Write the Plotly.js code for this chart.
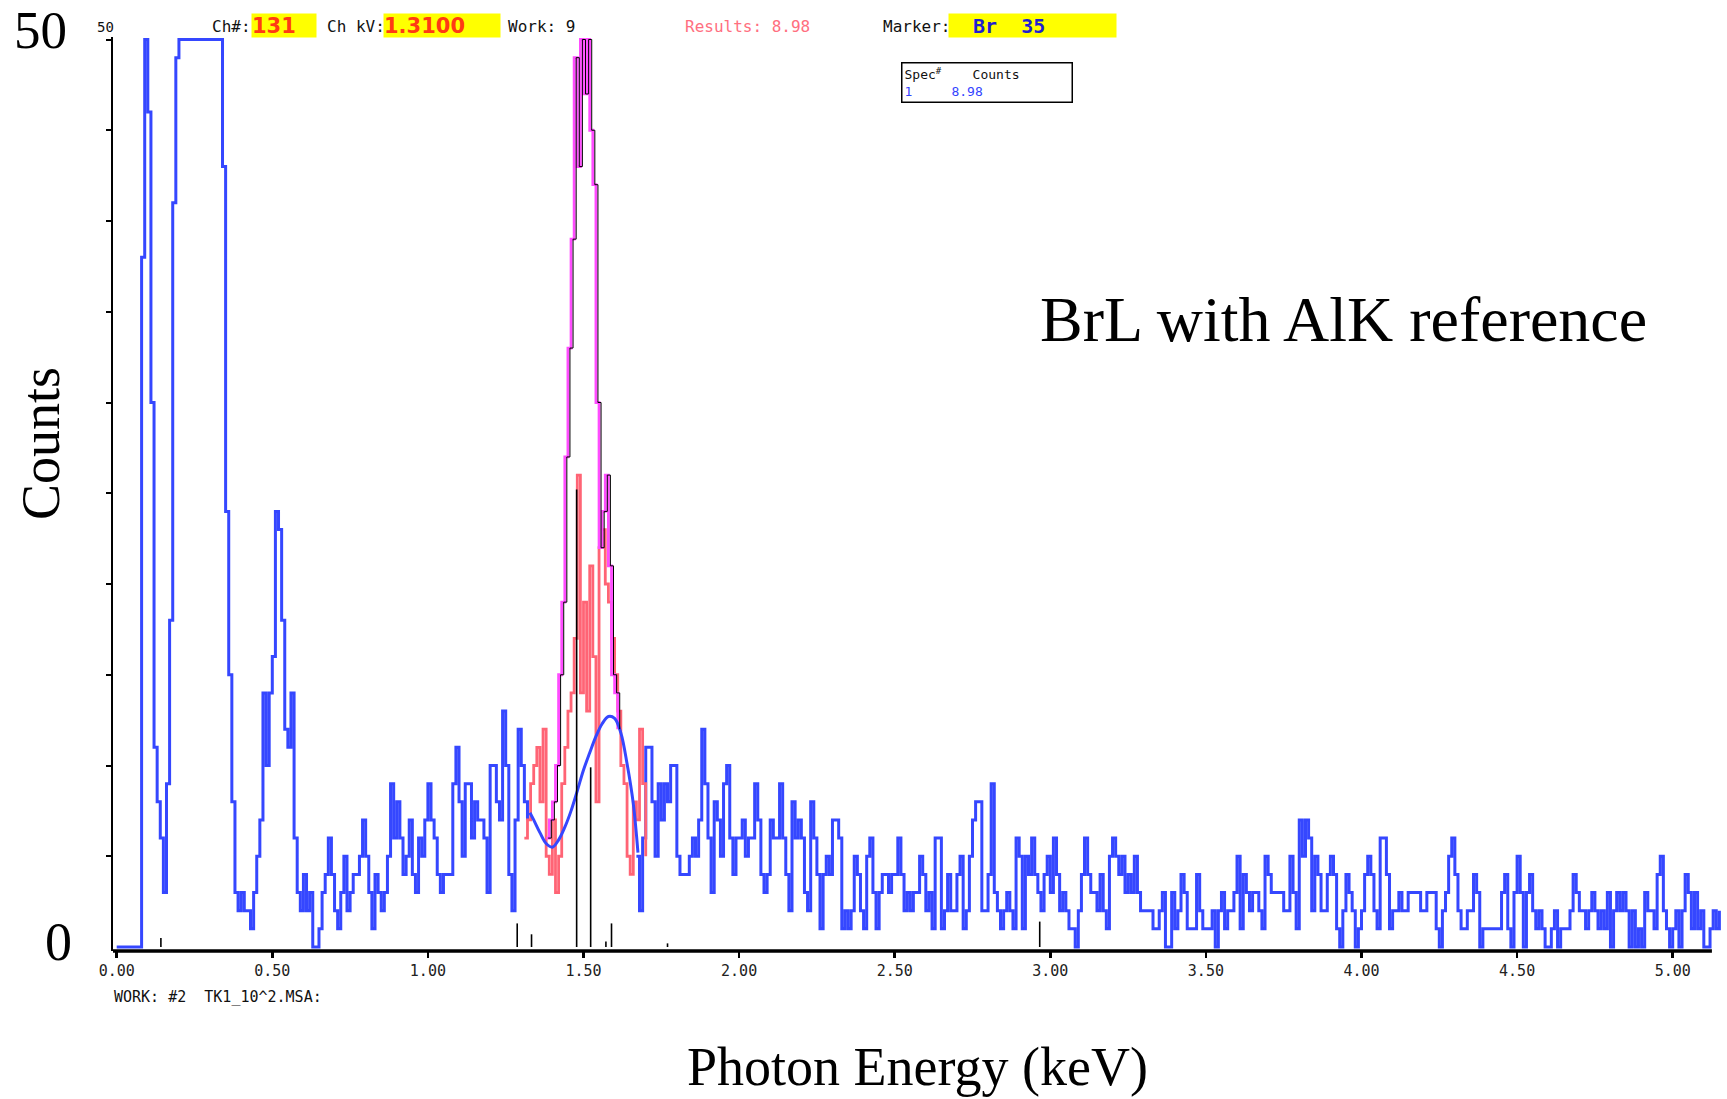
<!DOCTYPE html>
<html><head><meta charset="utf-8">
<script src="https://cdn.plot.ly/plotly-3.0.1.min.js"></script>
<style>html,body{margin:0;padding:0;background:#fff}#chart{width:1727px;height:1099px}</style>
</head><body><div id="chart"></div>
<script>
// ---------------- DATA ----------------
const channelWidthKeV = 0.01;           // Ch 131 = 1.3100 keV
// Measured spectrum (counts per channel, channel 0 .. 515); null where the fit is shown instead
const spectrumCounts = [
 0,0,0,0,0,0,0,0,38,50,
 46,30,11,8,6,3,9,18,41,49,
 50,50,50,50,50,50,50,50,50,50,
 50,50,50,50,43,24,15,8,3,2,
 3,2,2,1,3,5,7,14,10,14,
 16,24,23,18,12,11,14,6,3,2,
 4,2,3,0,0,1,3,4,6,4,
 2,1,3,5,2,3,4,4,5,7,
 5,3,1,4,3,2,3,5,9,6,
 8,6,4,5,7,4,3,6,5,7,
 9,7,6,4,3,4,4,4,9,11,
 8,5,9,9,6,8,7,7,6,3,
 10,10,8,7,13,10,4,2,7,12,
 10,8,7,null,null,null,null,null,null,null,
 null,null,null,null,null,null,null,null,null,null,
 null,null,null,null,null,null,null,null,null,null,
 null,null,null,null,null,null,null,5,2,6,
 11,11,8,5,9,7,9,8,10,10,
 5,4,4,4,5,6,5,7,12,9,
 6,3,8,7,5,9,10,6,4,6,
 6,7,5,6,6,9,7,4,3,4,
 7,6,6,9,6,4,2,8,6,7,
 6,3,2,8,6,4,1,4,5,4,
 7,7,6,1,2,1,2,5,4,2,
 1,5,6,3,1,3,4,4,3,4,
 4,6,4,2,3,2,3,3,5,4,
 2,3,1,6,6,1,2,4,2,2,
 4,5,1,2,5,7,8,8,2,2,
 4,9,3,2,1,2,3,2,1,6,
 5,1,5,4,6,4,3,2,4,5,
 3,6,4,2,3,2,1,1,0,2,
 4,6,4,3,3,2,4,2,1,5,
 6,5,4,5,3,4,3,5,3,2,
 2,2,2,1,1,2,3,0,0,3,
 1,2,4,3,1,1,1,4,2,1,
 1,1,2,0,2,3,1,2,2,3,
 5,1,4,3,2,3,3,2,1,5,
 4,3,3,3,3,2,2,5,3,1,
 7,5,7,6,2,5,4,2,2,4,
 5,4,1,0,2,4,3,2,0,1,
 2,4,5,4,2,1,6,6,4,1,
 2,2,3,2,2,3,3,3,3,2,
 2,3,3,3,1,0,2,3,5,6,
 4,2,1,1,2,2,4,3,0,1,
 1,1,1,1,1,3,4,1,0,3,
 5,3,0,3,4,2,1,2,1,0,
 0,1,2,0,1,1,1,2,4,3,
 2,2,1,2,3,2,1,2,1,3,
 0,2,3,2,3,2,0,2,0,1,
 0,3,2,2,1,4,5,2,1,0,
 1,2,0,2,4,3,1,3,1,2,
 0,0,1,2,1,2
];
// Br L residual (pink), channels 131..170
const residualStartChannel = 131;
const residualCounts = [6,7,9,10,11,8,12,5,4,7,3,5,9,11,13,14,17,26,14,19,13,21,16,8,22,23,20,19,17,15,13,10,9,5,4,8,7,12,9,5];
// Al K reference (magenta), channels 138..161
const referenceStartChannel = 138;
const referenceCounts = [6,7,8,10,15,19,27,33,39,49,43,50,47,50,45,42,30,22,24,26,21,15,14,12];
// Smooth fitted curve (blue)
const fitEnergyKeV = [1.328,1.34,1.36,1.38,1.40,1.42,1.44,1.46,1.48,1.50,1.52,1.54,1.56,1.58,1.60,1.62,1.64,1.66,1.675];
const fitCounts    = [7.4,7.0,6.3,5.7,5.5,5.9,6.6,7.5,8.6,9.75,10.7,11.6,12.3,12.7,12.6,11.8,10.1,7.9,5.2];
// Br line markers (black KLM lines)
const markerEnergyKeV = [0.142,1.287,1.333,1.478,1.523,1.572,1.590,1.770,2.966];
const markerHeight    = [0.5,1.3,0.7,25.2,9.9,0.3,1.3,0.2,1.4];
// Axis ticks
const xTickVals = [0,0.5,1,1.5,2,2.5,3,3.5,4,4.5,5];
const yTickVals = [5,10,15,20,25,30,35,40,45,50];
const axisEndKeV = 5.126;

// ---------------- GEOMETRY ----------------
const L=113, R=1722, T=37, B=951;
const pxPerKeV = 311.2, pxPerCount = 18.15;
const xLo = -3.7/pxPerKeV, xHi = xLo + (R-L)/pxPerKeV;
const yLo = -4/pxPerCount, yHi = yLo + (B-T)/pxPerCount;
const px = x => (x-L)/(R-L);
const py = y => (B-y)/(B-T);
const shadowShiftKeV = 2/pxPerKeV;

const chanE = (start, arr) => arr.map((_, i) => +((start+i)*channelWidthKeV).toFixed(3));

const BLUE='#3547ff', PINK='#ff6475', MAGENTA='#ff4cff';
const MONO='DejaVu Sans Mono', SERIF='Liberation Serif';

const traces = [
 {x: chanE(0, spectrumCounts), y: spectrumCounts, mode:'lines', line:{shape:'hv', color:BLUE, width:3}, connectgaps:false, hoverinfo:'skip'},
 {x: chanE(residualStartChannel, residualCounts), y: residualCounts, mode:'lines', line:{shape:'hv', color:PINK, width:2.8}, hoverinfo:'skip'},
 {x: chanE(referenceStartChannel, referenceCounts), y: referenceCounts, mode:'lines', line:{shape:'hv', color:MAGENTA, width:2.8}, hoverinfo:'skip'},
 {x: chanE(referenceStartChannel, referenceCounts), y: referenceCounts, xaxis:'x2', yaxis:'y', mode:'lines', line:{shape:'hv', color:'#000', width:1}, hoverinfo:'skip'},
 {x: fitEnergyKeV, y: fitCounts, mode:'lines', line:{shape:'spline', color:BLUE, width:3}, hoverinfo:'skip'},
 {x: markerEnergyKeV, y: markerHeight.map(()=>0), mode:'markers', marker:{size:1, color:'rgba(0,0,0,0)'},
  error_y:{type:'data', symmetric:false, array:markerHeight, arrayminus:markerHeight.map(()=>0), width:0, thickness:1.6, color:'#000'}, hoverinfo:'skip'}
];

const hdr = (text, cx, cy, opts={}) => Object.assign({
  xref:'paper', yref:'paper', x:px(cx), y:py(cy), xanchor:'center', yanchor:'middle', showarrow:false,
  text:text, font:{family:MONO, size:16, color:'#111'}
}, opts);

const annotations = [
 hdr('50', 105, 27, {font:{family:MONO, size:14, color:'#111'}}),
 hdr('Ch#:', 231, 27),
 hdr('131', 284, 25.5, {width:64, height:23, bgcolor:'#ffff00', align:'left', borderpad:0, font:{family:'DejaVu Sans', size:21, color:'#ff3a14', weight:'bold'}}),
 hdr('Ch kV:', 355.5, 27),
 hdr('1.3100', 442, 25.5, {width:116, height:23, bgcolor:'#ffff00', align:'left', borderpad:0, font:{family:'DejaVu Sans', size:21, color:'#ff3a14', weight:'bold'}}),
 hdr('Work: 9', 541, 27),
 hdr('Results: 8.98', 747, 27, {font:{family:MONO, size:16, color:'#ff6f80'}}),
 hdr('Marker:', 916, 27),
 hdr('&nbsp;&nbsp;Br&nbsp;&nbsp;35', 1032.5, 25.5, {width:167, height:23, bgcolor:'#ffff00', align:'left', borderpad:0, font:{family:MONO, size:20, color:'#1f1fd0', weight:'bold'}}),
 hdr('Spec<sup>#</sup>&nbsp;&nbsp;&nbsp;&nbsp;Counts<br><span style="color:#3344ff">1&nbsp;&nbsp;&nbsp;&nbsp;&nbsp;8.98</span>', 986.5, 82,
     {width:165, height:34, align:'left', borderpad:2, bordercolor:'#000', borderwidth:1.5, bgcolor:'#fff', font:{family:MONO, size:13, color:'#111'}}),
 hdr('WORK: #2  TK1_10^2.MSA:', 218, 997, {font:{family:MONO, size:15, color:'#111'}}),
 hdr('50', 40, 30, {borderpad:0, font:{family:SERIF, size:53, color:'#000'}}),
 hdr('0', 58, 942, {font:{family:SERIF, size:54, color:'#000'}}),
 hdr('Counts', 41, 444, {textangle:-90, font:{family:SERIF, size:54, color:'#000'}}),
 hdr('BrL with AlK reference', 1343, 319, {font:{family:SERIF, size:64, color:'#000'}})
];

const layout = {
 width:1727, height:1099, margin:{l:L, r:1727-R, t:T, b:1099-B},
 paper_bgcolor:'#fff', plot_bgcolor:'#fff', showlegend:false,
 xaxis:{range:[xLo,xHi], tickvals:xTickVals, tickformat:'.2f', ticks:'outside', ticklen:6, tickwidth:2.5, tickcolor:'#000',
        showline:false, showgrid:false, zeroline:false, automargin:false,
        tickfont:{family:MONO, size:15, color:'#222'},
        title:{text:'Photon Energy (keV)', font:{family:SERIF, size:54, color:'#000'}, standoff:68}},
 xaxis2:{overlaying:'x', anchor:'y', range:[xLo-shadowShiftKeV, xHi-shadowShiftKeV], visible:false, showgrid:false, zeroline:false},
 yaxis:{range:[yLo,yHi], tickvals:yTickVals, ticks:'outside', ticklen:5, tickwidth:2, tickcolor:'#000', showticklabels:false,
        showline:true, linewidth:2.5, linecolor:'#000', showgrid:false, zeroline:false, automargin:false},
 yaxis2:{overlaying:'y', anchor:'x', side:'left', range:[yLo,yHi], tickvals:yTickVals, ticks:'inside', ticklen:5, tickwidth:2, tickcolor:'#000',
        showticklabels:false, showline:false, showgrid:false, zeroline:false},
 shapes:[{type:'line', xref:'x', yref:'paper', x0:xLo, x1:axisEndKeV, y0:0, y1:0, line:{color:'#000', width:3.5}}],
 annotations: annotations
};

Plotly.newPlot('chart', traces, layout, {staticPlot:true, displayModeBar:false});
</script></body></html>
